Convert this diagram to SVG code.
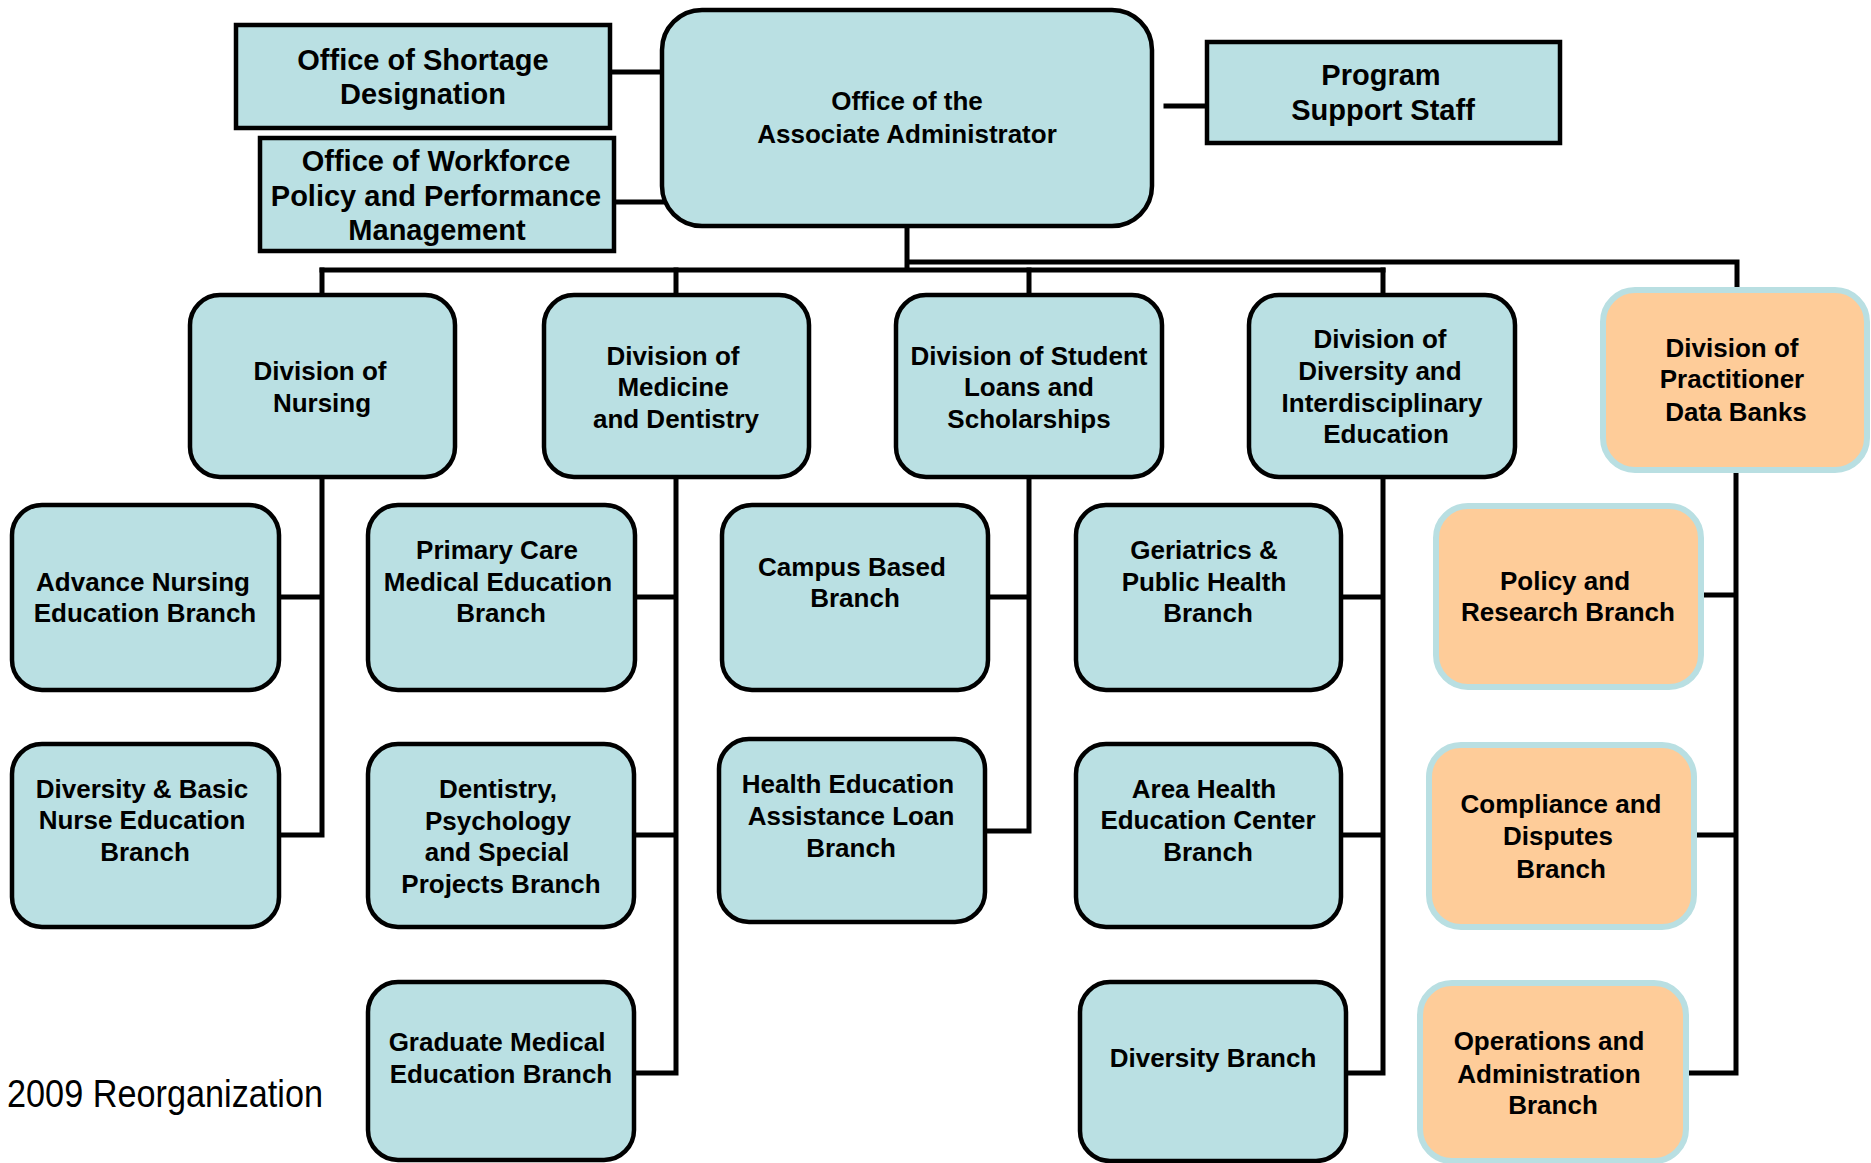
<svg xmlns="http://www.w3.org/2000/svg" width="1871" height="1163" viewBox="0 0 1871 1163">
<style>
.b{fill:#BAE0E3;stroke:#000;stroke-width:4.5}
.o{fill:#FECC99;stroke:#B9DFE2;stroke-width:6}
.c{fill:none;stroke:#000;stroke-width:5;stroke-linecap:square}
text{font-family:"Liberation Sans",Arial,sans-serif;font-weight:bold;fill:#000;text-anchor:middle}
.t26{font-size:26px}
.t29{font-size:29px}
</style>
<rect width="1871" height="1163" fill="#fff"/>
<g id="connectors">
<path class="c" d="M610 72H662M614 202H662M1166 106H1207"/>
<path class="c" d="M907 226V270M322 270H1383M907 262H1737V288"/>
<path class="c" d="M322 270V295M676 270V295M1029 270V295M1383 270V295"/>
<path class="c" d="M322 477V835M279 597H322M279 835H322"/>
<path class="c" d="M676 477V1073M635 597H676M634 835H676M634 1073H676"/>
<path class="c" d="M1029 477V831M988 597H1029M986 831H1029"/>
<path class="c" d="M1383 477V1073M1341 597H1383M1341 835H1383M1346 1073H1383"/>
<path class="c" d="M1736 471V1073M1702 595H1736M1695 835H1736M1687 1073H1736"/>
</g>
<g id="shortage"><rect class="b" x="236" y="25" width="374" height="103"/>
<text class="t29" x="423" y="70">Office of Shortage</text><text class="t29" x="423" y="104">Designation</text></g>
<g id="workforce"><rect class="b" x="260" y="138" width="354" height="113"/>
<text class="t29" x="436" y="171">Office of Workforce</text><text class="t29" x="436" y="206">Policy and Performance</text><text class="t29" x="437" y="240">Management</text></g>
<g id="admin"><rect class="b" x="662" y="10" width="490" height="216" rx="40"/>
<text class="t26" x="907" y="110">Office of the</text><text class="t26" x="907" y="143">Associate Administrator</text></g>
<g id="program"><rect class="b" x="1207" y="42" width="353" height="101"/>
<text class="t29" x="1381" y="85">Program</text><text class="t29" x="1383" y="120">Support Staff</text></g>

<g id="div-nursing"><rect class="b" x="190" y="295" width="265" height="182" rx="30"/>
<text class="t26" x="320" y="380">Division of</text><text class="t26" x="322" y="412">Nursing</text></g>
<g id="div-medicine"><rect class="b" x="544" y="295" width="265" height="182" rx="30"/>
<text class="t26" x="673" y="365">Division of</text><text class="t26" x="673" y="396">Medicine</text><text class="t26" x="676" y="428">and Dentistry</text></g>
<g id="div-student"><rect class="b" x="896" y="295" width="266" height="182" rx="30"/>
<text class="t26" x="1029" y="365">Division of Student</text><text class="t26" x="1029" y="396">Loans and</text><text class="t26" x="1029" y="428">Scholarships</text></g>
<g id="div-diversity"><rect class="b" x="1249" y="295" width="266" height="182" rx="30"/>
<text class="t26" x="1380" y="348">Division of</text><text class="t26" x="1380" y="380">Diversity and</text><text class="t26" x="1382" y="412">Interdisciplinary</text><text class="t26" x="1386" y="443">Education</text></g>
<g id="div-pdb"><rect class="o" x="1603" y="290" width="264" height="180" rx="32"/>
<text class="t26" x="1732" y="357">Division of</text><text class="t26" x="1732" y="388">Practitioner</text><text class="t26" x="1736" y="421">Data Banks</text></g>

<g id="advance-nursing"><rect class="b" x="12" y="505" width="267" height="185" rx="30"/>
<text class="t26" x="143" y="591">Advance Nursing</text><text class="t26" x="145" y="622">Education Branch</text></g>
<g id="primary-care"><rect class="b" x="368" y="505" width="267" height="185" rx="30"/>
<text class="t26" x="497" y="559">Primary Care</text><text class="t26" x="498" y="591">Medical Education</text><text class="t26" x="501" y="622">Branch</text></g>
<g id="campus"><rect class="b" x="722" y="505" width="266" height="185" rx="30"/>
<text class="t26" x="852" y="576">Campus Based</text><text class="t26" x="855" y="607">Branch</text></g>
<g id="geriatrics"><rect class="b" x="1076" y="505" width="265" height="185" rx="30"/>
<text class="t26" x="1204" y="559">Geriatrics &amp;</text><text class="t26" x="1204" y="591">Public Health</text><text class="t26" x="1208" y="622">Branch</text></g>
<g id="policy"><rect class="o" x="1436" y="506" width="265" height="181" rx="32"/>
<text class="t26" x="1565" y="590">Policy and</text><text class="t26" x="1568" y="621">Research Branch</text></g>

<g id="diversity-basic"><rect class="b" x="12" y="744" width="267" height="183" rx="30"/>
<text class="t26" x="142" y="798">Diversity &amp; Basic</text><text class="t26" x="142" y="829">Nurse Education</text><text class="t26" x="145" y="861">Branch</text></g>
<g id="dentistry"><rect class="b" x="368" y="744" width="266" height="183" rx="30"/>
<text class="t26" x="498" y="798">Dentistry,</text><text class="t26" x="498" y="830">Psychology</text><text class="t26" x="497" y="861">and Special</text><text class="t26" x="501" y="893">Projects Branch</text></g>
<g id="heal"><rect class="b" x="719" y="739" width="266" height="183" rx="30"/>
<text class="t26" x="848" y="793">Health Education</text><text class="t26" x="851" y="825">Assistance Loan</text><text class="t26" x="851" y="857">Branch</text></g>
<g id="area-health"><rect class="b" x="1076" y="744" width="265" height="183" rx="30"/>
<text class="t26" x="1204" y="798">Area Health</text><text class="t26" x="1208" y="829">Education Center</text><text class="t26" x="1208" y="861">Branch</text></g>
<g id="compliance"><rect class="o" x="1429" y="745" width="265" height="182" rx="32"/>
<text class="t26" x="1561" y="813">Compliance and</text><text class="t26" x="1558" y="845">Disputes</text><text class="t26" x="1561" y="878">Branch</text></g>

<g id="graduate"><rect class="b" x="368" y="982" width="266" height="178" rx="30"/>
<text class="t26" x="497" y="1051">Graduate Medical</text><text class="t26" x="501" y="1083">Education Branch</text></g>
<g id="diversity-branch"><rect class="b" x="1080" y="982" width="266" height="179" rx="30"/>
<text class="t26" x="1213" y="1067">Diversity Branch</text></g>
<g id="operations"><rect class="o" x="1420" y="983" width="266" height="178" rx="32"/>
<text class="t26" x="1549" y="1050">Operations and</text><text class="t26" x="1549" y="1083">Administration</text><text class="t26" x="1553" y="1114">Branch</text></g>

<text x="7" y="1107" style="font-family:'Liberation Sans Narrow','Liberation Sans',Arial,sans-serif;font-weight:normal;font-size:39px;text-anchor:start" textLength="316" lengthAdjust="spacingAndGlyphs">2009 Reorganization</text>
</svg>
